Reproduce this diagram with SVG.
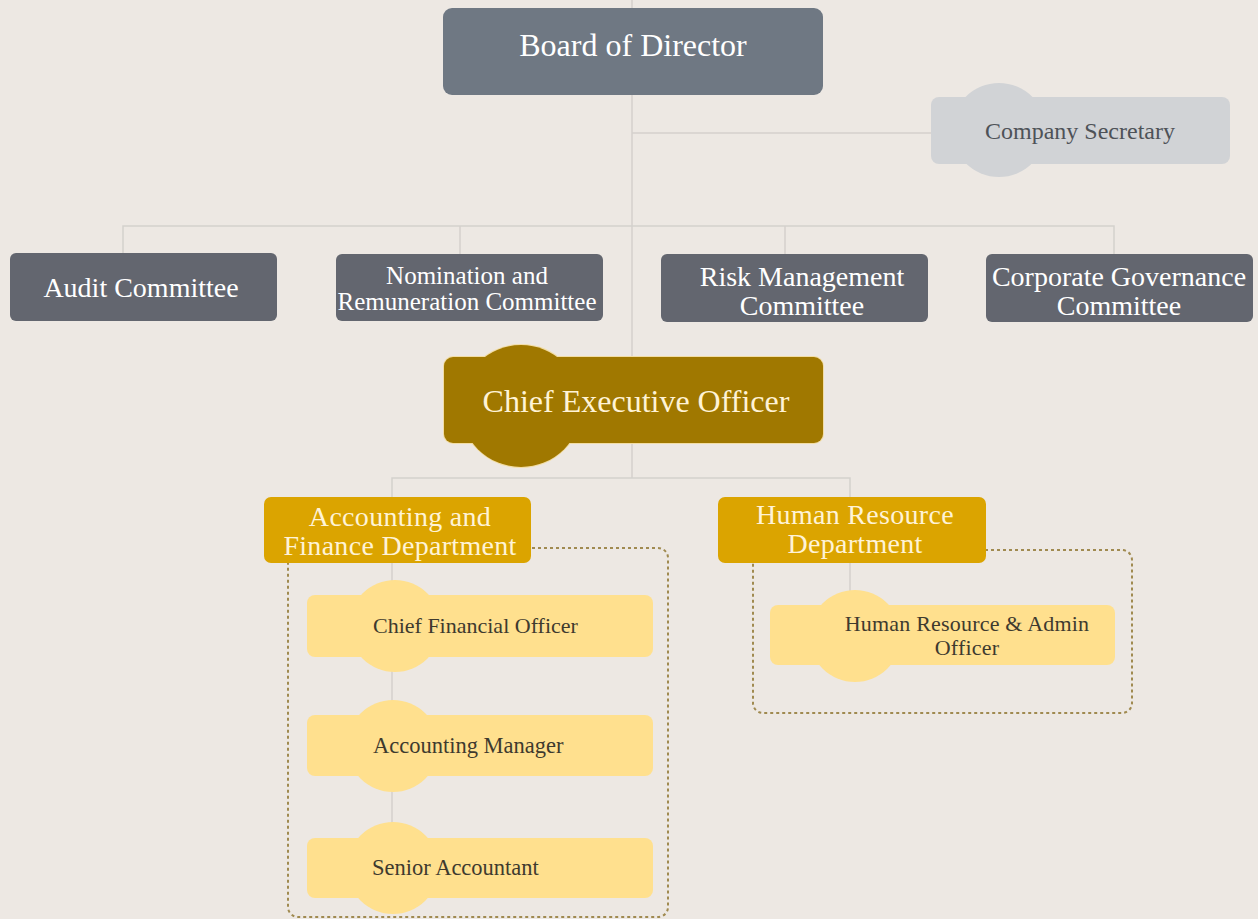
<svg xmlns="http://www.w3.org/2000/svg" width="1258" height="919" viewBox="0 0 1258 919">
<style>
.t{font-family:"Liberation Serif","Times New Roman",serif;text-anchor:middle}
.ln{stroke:#D4D1CD;stroke-width:1.5;fill:none}
.dot{stroke:#A08A50;stroke-width:2;stroke-dasharray:3 3;fill:none}
.board{fill:#6F7883}
.com{fill:#63666F}
.sec{fill:#D1D3D6}
.ceo{fill:#A07800}
.dept{fill:#DBA400}
.sub{fill:#FFE08E}
.w{fill:#FFFFFF}
.cream{fill:#FFF3D6}
.dk{fill:#3E3A2E}
</style>
<rect x="0" y="0" width="1258" height="919" fill="#EDE8E3"/>
<g id="connectors">
<line class="ln" x1="632" y1="0" x2="632" y2="8"/>
<line class="ln" x1="632" y1="95" x2="632" y2="357"/>
<line class="ln" x1="632" y1="133" x2="931" y2="133"/>
<polyline class="ln" points="123,253 123,226 1114,226 1114,254"/>
<line class="ln" x1="460" y1="226" x2="460" y2="254"/>
<line class="ln" x1="785" y1="226" x2="785" y2="254"/>
<line class="ln" x1="632" y1="443" x2="632" y2="478"/>
<polyline class="ln" points="392,497 392,478 850,478 850,497"/>
<line class="ln" x1="392" y1="563" x2="392" y2="825"/>
<line class="ln" x1="850" y1="563" x2="850" y2="592"/>
</g>
<g id="board">
<rect class="board" x="443" y="8" width="380" height="87" rx="9"/>
<text class="t w" x="633" y="56" font-size="32">Board of Director</text>
</g>
<g id="secretary">
<circle class="sec" cx="999" cy="130" r="47"/>
<rect class="sec" x="931" y="97" width="299" height="67" rx="8"/>
<text class="t" x="1080" y="139" font-size="24" fill="#4E5258">Company Secretary</text>
</g>
<g id="audit">
<rect class="com" x="10" y="253" width="267" height="68" rx="6"/>
<text class="t w" x="141" y="297" font-size="28">Audit Committee</text>
</g>
<g id="nomination">
<rect class="com" x="336" y="254" width="267" height="67" rx="6"/>
<text class="t w" x="467" y="284" font-size="25">Nomination and</text>
<text class="t w" x="467" y="310" font-size="25">Remuneration Committee</text>
</g>
<g id="risk">
<rect class="com" x="661" y="254" width="267" height="68" rx="6"/>
<text class="t w" x="802" y="286" font-size="28">Risk Management</text>
<text class="t w" x="802" y="315" font-size="28">Committee</text>
</g>
<g id="governance">
<rect class="com" x="986" y="254" width="267" height="68" rx="6"/>
<text class="t w" x="1119" y="286" font-size="28">Corporate Governance</text>
<text class="t w" x="1119" y="315" font-size="28">Committee</text>
</g>
<g id="ceo">
<circle cx="521" cy="406" r="61" fill="#A07800" stroke="#F2DDA5" stroke-width="2"/>
<rect x="444" y="357" width="379" height="86" rx="9" fill="#A07800" stroke="#F2DDA5" stroke-width="2"/>
<circle class="ceo" cx="521" cy="406" r="61"/>
<rect class="ceo" x="444" y="357" width="379" height="86" rx="9"/>
<text class="t cream" x="636" y="412" font-size="32">Chief Executive Officer</text>
</g>
<g id="accounting-group">
<rect class="dot" x="288" y="548" width="380" height="369" rx="10"/>
</g>
<g id="hr-group">
<rect class="dot" x="753" y="550" width="379" height="163" rx="10"/>
</g>
<g id="accounting">
<rect class="dept" x="264" y="497" width="267" height="66" rx="7"/>
<text class="t cream" x="400" y="526" font-size="28" letter-spacing="0.3">Accounting and</text>
<text class="t cream" x="400" y="555" font-size="28" letter-spacing="0.3">Finance Department</text>
</g>
<g id="hr">
<rect class="dept" x="718" y="497" width="268" height="66" rx="7"/>
<text class="t cream" x="855" y="524" font-size="28" letter-spacing="0.3">Human Resource</text>
<text class="t cream" x="855" y="553" font-size="28" letter-spacing="0.3">Department</text>
</g>
<g id="cfo">
<circle class="sub" cx="395" cy="626" r="46"/>
<rect class="sub" x="307" y="595" width="346" height="62" rx="8"/>
<text class="t dk" x="373" y="633" font-size="22" style="text-anchor:start">Chief Financial Officer</text>
</g>
<g id="manager">
<circle class="sub" cx="393" cy="746" r="46"/>
<rect class="sub" x="307" y="715" width="346" height="61" rx="8"/>
<text class="t dk" x="373" y="753" font-size="22.5" style="text-anchor:start">Accounting Manager</text>
</g>
<g id="senior">
<circle class="sub" cx="393" cy="868" r="46"/>
<rect class="sub" x="307" y="838" width="346" height="60" rx="8"/>
<text class="t dk" x="372" y="875" font-size="22.5" style="text-anchor:start">Senior Accountant</text>
</g>
<g id="hr-officer">
<circle class="sub" cx="855" cy="636" r="46"/>
<rect class="sub" x="770" y="605" width="345" height="60" rx="8"/>
<text class="t dk" x="967" y="631" font-size="22" letter-spacing="0.2">Human Resource &amp; Admin</text>
<text class="t dk" x="967" y="655" font-size="22" letter-spacing="0.2">Officer</text>
</g>
</svg>
